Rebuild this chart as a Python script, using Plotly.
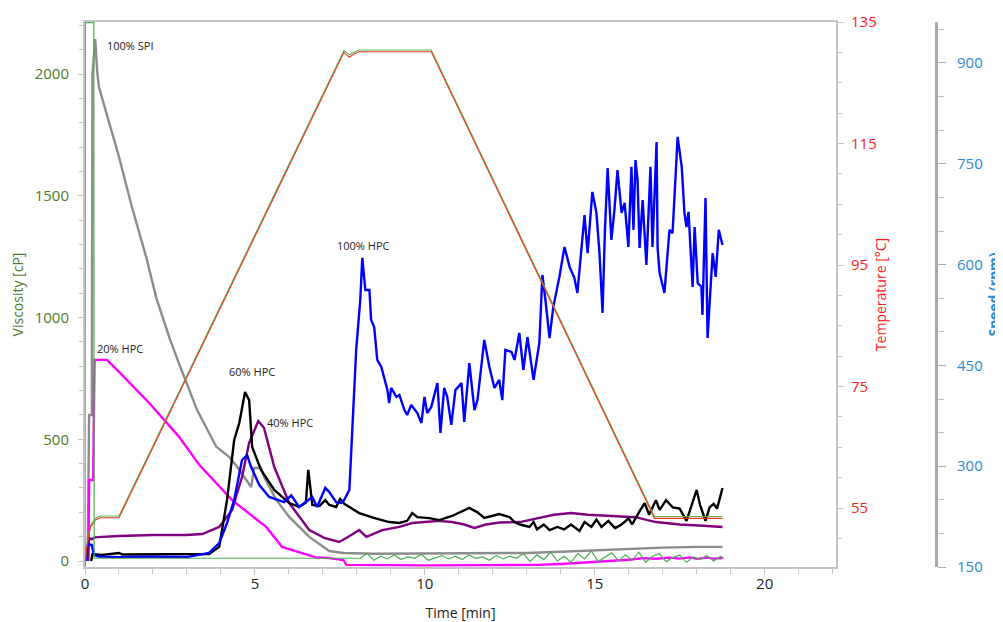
import plotly.graph_objects as go

# ---------------- data ----------------
# 100% SPI (grey) viscosity, cP
spi_t = [0.08, 0.12, 0.2, 0.22, 0.30, 0.36, 0.41, 0.71, 1.0, 1.38, 1.80, 2.1, 2.5, 2.77, 3.3, 3.86, 4.25, 4.48,
         4.77, 4.89, 4.98, 5.18, 5.27, 5.63, 6.01, 6.60, 7.19, 7.6, 8.5, 10.0, 12.0, 13.0, 14.0, 15.0,
         16.0, 17.0, 18.0, 18.76]
spi_v = [0, 600, 600, 2000, 2144, 2009, 1947, 1799, 1660, 1454, 1249, 1080, 910, 810, 620, 470, 427, 386,
         325, 304, 382, 382, 345, 251, 181, 99, 41, 33, 30, 30, 32, 33, 38, 44,
         50, 55, 58, 58]

# 20% HPC (magenta)
h20_t = [0.1, 0.12, 0.24, 0.28, 0.32, 0.65, 1.0, 1.89, 2.77, 3.36, 4.33, 5.33, 5.80, 6.30, 6.77,
         7.19, 7.5, 7.6, 7.7, 8.5, 10.0, 12.0, 13.3, 14.0, 15.0, 16.0, 16.4, 16.8, 17.2, 17.5,
         17.8, 18.0, 18.3, 18.5, 18.76]
h20_v = [0, 333, 333, 826, 826, 826, 777, 649, 510, 395, 250, 140, 58, 37, 16,
         12, 5, 4, -16, -17, -18, -17, -16, -12, -5, 5, 12, 9, 14, 10,
         15, 9, 14, 10, 12]

# 40% HPC (purple)
h40_t = [0.08, 0.12, 0.2, 0.3, 0.5, 1.0, 2.0, 3.0, 3.45, 3.95, 4.33, 4.62, 4.83, 5.10, 5.27, 5.57,
         6.01, 6.60, 7.04, 7.48, 7.75, 8.07, 8.28, 8.75, 9.25, 9.63, 10.0, 10.4, 10.8, 11.16, 11.46,
         11.8, 12.2, 12.8, 13.3, 13.8, 14.3, 14.8, 15.5, 16.2, 16.8, 17.5, 18.2, 18.76]
h40_v = [0, 94, 90, 97, 99, 103, 107, 107, 111, 140, 210, 345, 485, 575, 546, 386,
         238, 127, 95, 78, 100, 127, 99, 127, 140, 156, 160, 165, 160, 150, 136,
         150, 158, 160, 175, 190, 197, 190, 185, 180, 160, 150, 145, 140]

# 60% HPC (black)
h60_t = [0.18, 0.22, 0.5, 0.9, 1.0, 1.1, 2.0, 3.0, 3.65, 3.95, 4.18, 4.39, 4.54, 4.71, 4.83, 4.92,
         5.18, 5.57, 6.01, 6.30, 6.50, 6.57, 6.69, 6.9, 7.07, 7.19, 7.39, 7.51, 7.63, 7.78, 8.07,
         8.5, 8.95, 9.25, 9.48, 9.63, 9.78, 10.13, 10.43, 10.8, 11.31, 11.55, 11.75, 12.19, 12.5,
         12.64, 12.8, 13.08, 13.2, 13.3, 13.5, 13.67, 13.9, 14.1, 14.3, 14.55, 14.7, 14.9, 15.05,
         15.2, 15.4, 15.6, 15.79, 16.0, 16.1, 16.3, 16.47, 16.6, 16.8, 16.91, 17.1, 17.3, 17.5,
         17.7, 17.88, 18.0, 18.1, 18.26, 18.38, 18.5, 18.6, 18.67, 18.76]
h60_v = [0, 29, 25, 29, 33, 27, 27, 27, 29, 58, 251, 497, 567, 694, 661, 468,
         374, 292, 238, 222, 240, 374, 230, 226, 250, 230, 222, 255, 235, 222, 197,
         177, 160, 156, 165, 197, 180, 176, 168, 185, 218, 200, 177, 193, 180,
         160, 150, 140, 160, 130, 150, 127, 140, 130, 150, 123, 160, 140, 170,
         140, 165, 135, 150, 175, 150, 200, 238, 190, 250, 210, 250, 220, 215,
         165, 240, 292, 230, 165, 220, 235, 215, 250, 300]

# 100% HPC (blue)
h100_t = [0.03, 0.06, 0.1, 0.2, 0.26, 0.4, 1.0, 2.0, 3.0, 3.65, 3.95, 4.18, 4.39, 4.62, 4.77, 4.89,
          5.13, 5.42, 5.86, 6.07, 6.30, 6.69, 6.83, 7.07, 7.19, 7.39, 7.54, 7.63, 7.78, 7.86, 7.98,
          8.10, 8.16, 8.25, 8.37, 8.42, 8.51, 8.60, 8.72, 8.90, 8.95, 9.01, 9.16, 9.25, 9.40, 9.48,
          9.60, 9.78, 9.90, 9.99, 10.07, 10.19, 10.37, 10.46, 10.57, 10.66, 10.78, 10.90, 11.08,
          11.16, 11.31, 11.46, 11.55, 11.75, 11.90, 12.05, 12.19, 12.28, 12.37, 12.55, 12.64, 12.78,
          12.90, 13.02, 13.20, 13.37, 13.46, 13.55, 13.67, 13.78, 13.87, 13.96, 14.11, 14.26, 14.40,
          14.49, 14.70, 14.79, 14.93, 15.05, 15.14, 15.23, 15.30, 15.38, 15.49, 15.58, 15.67, 15.79,
          15.88, 15.99, 16.08, 16.14, 16.20, 16.26, 16.32, 16.41, 16.52, 16.64, 16.70, 16.82, 16.85,
          16.91, 17.05, 17.20, 17.29, 17.44, 17.56, 17.64, 17.70, 17.76, 17.88, 17.94, 18.03, 18.14,
          18.17, 18.26, 18.32, 18.47, 18.56, 18.65, 18.76]
h100_v = [0, 60, 68, 66, 25, 18, 16, 18, 16, 33, 74, 156, 251, 415, 435, 386,
          312, 263, 242, 270, 222, 263, 222, 300, 283, 242, 238, 251, 292, 526, 867,
          1072, 1245, 1113, 1113, 990, 961, 826, 797, 702, 649, 711, 674, 682, 620, 600,
          641, 608, 567, 674, 608, 633, 731, 526, 711, 674, 559, 702, 731,
          571, 813, 620, 661, 908, 797, 711, 744, 661, 867, 859, 826, 937,
          785, 920, 744, 896, 1175, 1072, 916, 1043, 1101, 1167, 1290, 1208, 1163,
          1101, 1421, 1265, 1516, 1430, 1265, 1019, 1360, 1614, 1319, 1442, 1606, 1430,
          1471, 1290, 1619, 1360, 1647, 1565, 1286, 1483, 1216, 1619, 1290, 1721, 1286,
          1183, 1101, 1360, 1347, 1742, 1619, 1430, 1372, 1434, 1126, 1372, 1142, 1126,
          1011, 1491, 916, 1265, 1167, 1360, 1298]

# Temperature (°C): measured (red) and set profile (green)
temp_t = [0, 0.04, 0.1, 0.16, 0.3, 0.45, 1.0, 7.62, 7.7, 7.78, 7.9, 8.07, 10.19, 16.76, 18.76]
temp_meas = [45.5, 48.0, 50.3, 51.8, 53.0, 53.4, 53.4, 130.0, 129.6, 129.2, 129.7, 130.1, 130.1, 53.3, 53.3]
temp_set = [45.8, 48.3, 50.6, 52.1, 53.3, 53.7, 53.7, 130.3, 130.0, 129.6, 130.0, 130.4, 130.4, 53.6, 53.6]

# Stirring speed (rpm)
speed_t = [0, 0.01, 0.26, 0.27, 8.1, 8.3, 8.5, 8.7, 8.9, 9.1, 9.3, 9.5, 9.7, 9.9, 10.1, 10.3, 10.5,
           10.7, 10.9, 11.1, 11.3, 11.5, 11.7, 11.9, 12.1, 12.3, 12.5, 12.7, 12.9, 13.1, 13.3, 13.5,
           13.7, 13.9, 14.1, 14.3, 14.5, 14.7, 14.9, 15.1, 15.3, 15.5, 15.7, 15.9, 16.1, 16.3, 16.5,
           16.7, 16.9, 17.1, 17.3, 17.5, 17.7, 17.9, 18.1, 18.3, 18.5, 18.7, 18.8]
speed_v = [0, 960, 960, 163, 163, 170, 160, 166, 162, 168, 161, 165, 163, 169, 160, 164, 167,
           162, 166, 161, 168, 163, 165, 160, 167, 162, 166, 163, 170, 158, 168, 161,
           172, 159, 166, 157, 170, 162, 174, 158, 165, 171, 159, 168, 160, 172, 157,
           166, 170, 158, 164, 168, 157, 165, 161, 167, 159, 166, 163]

labels = ["100% SPI", "20% HPC", "60% HPC", "40% HPC", "100% HPC"]
label_t = [1.35, 1.03, 4.9, 6.04, 8.19]
label_v = [2116, 871, 780, 571, 1298]

# ---------------- figure ----------------
GREEN_AX = "#4f7a2c"
RED_AX = "#ff1a1a"
BLUE_AX = "#2a8ad4"
AXLINE = "#c4c4c4"
FONT = "Open Sans"

fig = go.Figure()

fig.add_trace(go.Scatter(x=speed_t, y=speed_v, yaxis="y3", mode="lines",
                         line=dict(color="#4caf50", width=1.2), hoverinfo="skip"))
fig.add_trace(go.Scatter(x=temp_t, y=temp_set, yaxis="y2", mode="lines",
                         line=dict(color="#58b848", width=1.1), hoverinfo="skip"))
fig.add_trace(go.Scatter(x=temp_t, y=temp_meas, yaxis="y2", mode="lines",
                         line=dict(color="#ee3322", width=1.1), hoverinfo="skip"))

for tt, vv, col in [(spi_t, spi_v, "#8c8c8c"), (h20_t, h20_v, "#ff00ff"),
                    (h40_t, h40_v, "#800080"), (h60_t, h60_v, "#000000"),
                    (h100_t, h100_v, "#0000ff")]:
    fig.add_trace(go.Scatter(x=tt, y=vv, mode="lines", line=dict(color=col, width=2.4),
                             hoverinfo="skip"))

for txt, tx, ty in zip(labels, label_t, label_v):
    fig.add_annotation(x=tx, y=ty, xref="x", yref="y", text=txt, showarrow=False,
                       font=dict(family=FONT, size=11, color="#222222"))

# the page adds an 8px body margin, so the figure is shifted by 8px
fig.update_layout(
    width=995, height=614,
    margin=dict(l=77, r=67, t=14, b=55),
    paper_bgcolor="white", plot_bgcolor="white",
    showlegend=False,
    font=dict(family=FONT),
    xaxis=dict(domain=[0, 0.8825], range=[0, 22.1], showgrid=False, zeroline=False,
               showline=True, linecolor=AXLINE, linewidth=2, mirror=True,
               ticks="outside", ticklen=6, tickcolor=AXLINE, tick0=0, dtick=5,
               minor=dict(ticks="outside", dtick=1, ticklen=5, tickcolor=AXLINE),
               ticklabelstandoff=-4,
               tickfont=dict(size=15, color="#222222", family=FONT),
               title=dict(text="Time [min]", font=dict(size=14, color="#222222", family=FONT),
                          standoff=18),
               automargin=False),
    yaxis=dict(range=[-24.6, 2214], showgrid=False, zeroline=False,
               showline=True, linecolor=AXLINE, linewidth=2,
               ticks="outside", ticklen=5, tickcolor=AXLINE, tick0=0, dtick=500,
               minor=dict(ticks="outside", dtick=100, ticklen=4, tickcolor=AXLINE),
               ticklabelstandoff=6,
               tickfont=dict(size=15, color=GREEN_AX, family=FONT),
               title=dict(text="Viscosity [cP]", font=dict(size=14, color=GREEN_AX, family=FONT),
                          standoff=10),
               automargin=False),
    yaxis2=dict(range=[45.3, 135], overlaying="y", side="right", anchor="x",
                showgrid=False, zeroline=False, showline=True, linecolor=AXLINE, linewidth=2,
                ticks="outside", ticklen=6, tickcolor=AXLINE, tick0=55, dtick=20,
                minor=dict(ticks="outside", dtick=5, tick0=55, ticklen=4, tickcolor=AXLINE),
                ticklabelstandoff=4,
                tickfont=dict(size=15, color=RED_AX, family=FONT),
                title=dict(text="Temperature [°C]", font=dict(size=14, color=RED_AX, family=FONT),
                           standoff=0),
                automargin=False),
    yaxis3=dict(range=[150, 961], overlaying="y", side="right", anchor="free", position=1.0,
                showgrid=False, zeroline=False, showline=True, linecolor="#aaaaaa", linewidth=3,
                ticks="outside", ticklen=8, tickcolor="#aaaaaa", tick0=150, dtick=150,
                minor=dict(ticks="outside", dtick=50, tick0=150, ticklen=6, tickcolor="#bbbbbb"),
                ticklabelstandoff=8,
                tickfont=dict(size=15, color=BLUE_AX, family=FONT),
                title=dict(text="<b>Speed (rpm)</b>", font=dict(size=14, color=BLUE_AX, family=FONT),
                           standoff=10),
                automargin=False),
)

fig.write_html("out.html")
